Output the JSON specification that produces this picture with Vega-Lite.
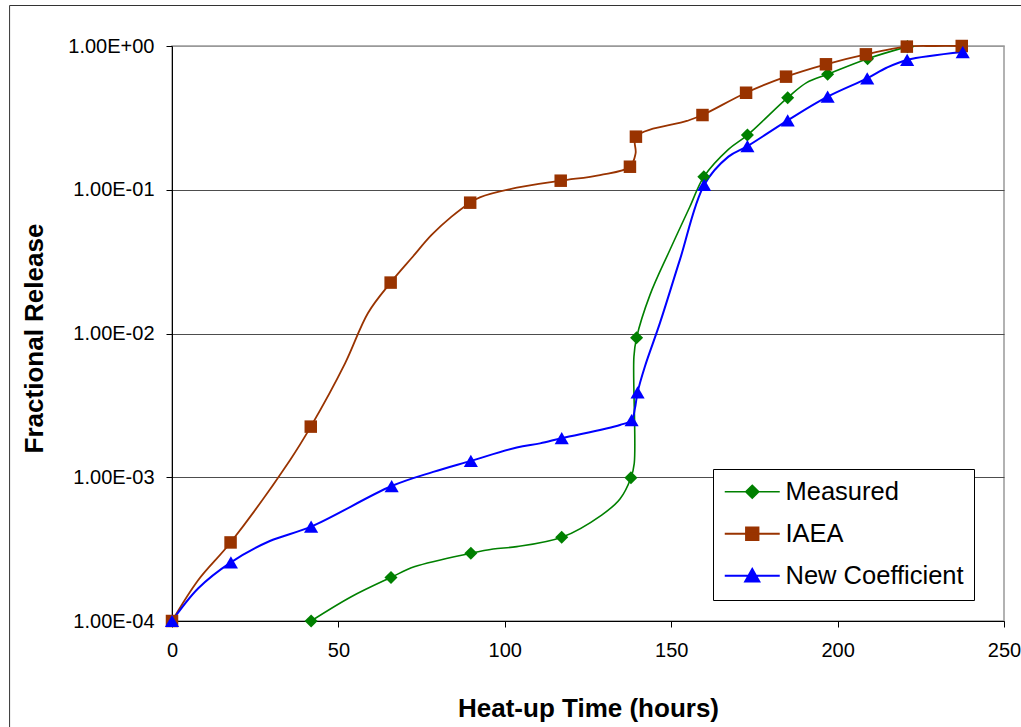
{
  "$schema": "https://vega.github.io/schema/vega-lite/v6.json",
  "width": 832,
  "height": 575,
  "autosize": {"type": "none"},
  "padding": {"left": 172, "top": 46, "right": 17, "bottom": 106},
  "background": "white",
  "datasets": {
    "curve": [
      {"series": "Measured", "t": 41.8, "v": 0.0001},
      {"series": "Measured", "t": 54.0, "v": 0.000148},
      {"series": "Measured", "t": 65.8, "v": 0.000201},
      {"series": "Measured", "t": 73.0, "v": 0.000239},
      {"series": "Measured", "t": 89.8, "v": 0.000296},
      {"series": "Measured", "t": 96.5, "v": 0.000317},
      {"series": "Measured", "t": 103.6, "v": 0.000329},
      {"series": "Measured", "t": 117.1, "v": 0.000382},
      {"series": "Measured", "t": 129.1, "v": 0.000546},
      {"series": "Measured", "t": 134.6, "v": 0.000706},
      {"series": "Measured", "t": 137.9, "v": 0.000993},
      {"series": "Measured", "t": 138.9, "v": 0.00125},
      {"series": "Measured", "t": 138.8, "v": 0.0069},
      {"series": "Measured", "t": 139.6, "v": 0.00935},
      {"series": "Measured", "t": 143.6, "v": 0.0185},
      {"series": "Measured", "t": 149.6, "v": 0.0381},
      {"series": "Measured", "t": 155.6, "v": 0.0762},
      {"series": "Measured", "t": 159.8, "v": 0.123},
      {"series": "Measured", "t": 167.2, "v": 0.191},
      {"series": "Measured", "t": 172.9, "v": 0.24},
      {"series": "Measured", "t": 185.0, "v": 0.437},
      {"series": "Measured", "t": 190.7, "v": 0.556},
      {"series": "Measured", "t": 197.0, "v": 0.636},
      {"series": "Measured", "t": 209.0, "v": 0.816},
      {"series": "Measured", "t": 221.0, "v": 0.99},
      {"series": "IAEA", "t": 0, "v": 0.0001},
      {"series": "IAEA", "t": 7.9, "v": 0.000193},
      {"series": "IAEA", "t": 17.6, "v": 0.000352},
      {"series": "IAEA", "t": 35.5, "v": 0.00132},
      {"series": "IAEA", "t": 41.7, "v": 0.00225},
      {"series": "IAEA", "t": 52.0, "v": 0.0062},
      {"series": "IAEA", "t": 58.9, "v": 0.0139},
      {"series": "IAEA", "t": 65.7, "v": 0.0226},
      {"series": "IAEA", "t": 72.0, "v": 0.0335},
      {"series": "IAEA", "t": 78.0, "v": 0.0485},
      {"series": "IAEA", "t": 84.0, "v": 0.065},
      {"series": "IAEA", "t": 89.6, "v": 0.0813},
      {"series": "IAEA", "t": 92.5, "v": 0.0886},
      {"series": "IAEA", "t": 103.6, "v": 0.1033},
      {"series": "IAEA", "t": 116.8, "v": 0.1156},
      {"series": "IAEA", "t": 128.6, "v": 0.1266},
      {"series": "IAEA", "t": 137.6, "v": 0.1446},
      {"series": "IAEA", "t": 139.3, "v": 0.179},
      {"series": "IAEA", "t": 139.4, "v": 0.234},
      {"series": "IAEA", "t": 154.7, "v": 0.301},
      {"series": "IAEA", "t": 159.4, "v": 0.331},
      {"series": "IAEA", "t": 172.5, "v": 0.473},
      {"series": "IAEA", "t": 184.5, "v": 0.612},
      {"series": "IAEA", "t": 196.5, "v": 0.746},
      {"series": "IAEA", "t": 208.5, "v": 0.875},
      {"series": "IAEA", "t": 220.8, "v": 0.99},
      {"series": "IAEA", "t": 229.0, "v": 1.0},
      {"series": "IAEA", "t": 237.3, "v": 1.0},
      {"series": "New Coefficient", "t": 0, "v": 0.0001},
      {"series": "New Coefficient", "t": 7.9, "v": 0.000169},
      {"series": "New Coefficient", "t": 17.7, "v": 0.000256},
      {"series": "New Coefficient", "t": 29.4, "v": 0.00036},
      {"series": "New Coefficient", "t": 41.8, "v": 0.000453},
      {"series": "New Coefficient", "t": 66.0, "v": 0.000869},
      {"series": "New Coefficient", "t": 78.5, "v": 0.00109},
      {"series": "New Coefficient", "t": 89.8, "v": 0.0013},
      {"series": "New Coefficient", "t": 103.6, "v": 0.00161},
      {"series": "New Coefficient", "t": 110.6, "v": 0.00172},
      {"series": "New Coefficient", "t": 117.1, "v": 0.00187},
      {"series": "New Coefficient", "t": 134.6, "v": 0.00231},
      {"series": "New Coefficient", "t": 138.1, "v": 0.0025},
      {"series": "New Coefficient", "t": 139.1, "v": 0.00302},
      {"series": "New Coefficient", "t": 139.9, "v": 0.0039},
      {"series": "New Coefficient", "t": 142.1, "v": 0.0059},
      {"series": "New Coefficient", "t": 146.6, "v": 0.0118},
      {"series": "New Coefficient", "t": 152.6, "v": 0.0325},
      {"series": "New Coefficient", "t": 159.9, "v": 0.108},
      {"series": "New Coefficient", "t": 167.2, "v": 0.17},
      {"series": "New Coefficient", "t": 172.9, "v": 0.201},
      {"series": "New Coefficient", "t": 185.0, "v": 0.304},
      {"series": "New Coefficient", "t": 197.0, "v": 0.444},
      {"series": "New Coefficient", "t": 208.9, "v": 0.596},
      {"series": "New Coefficient", "t": 214.7, "v": 0.706},
      {"series": "New Coefficient", "t": 220.9, "v": 0.8},
      {"series": "New Coefficient", "t": 237.6, "v": 0.908}
    ],
    "markers": [
      {"series": "Measured", "t": 41.8, "v": 0.0001},
      {"series": "Measured", "t": 65.8, "v": 0.000201},
      {"series": "Measured", "t": 89.8, "v": 0.000296},
      {"series": "Measured", "t": 117.1, "v": 0.000382},
      {"series": "Measured", "t": 137.9, "v": 0.000993},
      {"series": "Measured", "t": 139.6, "v": 0.00935},
      {"series": "Measured", "t": 159.8, "v": 0.123},
      {"series": "Measured", "t": 172.9, "v": 0.24},
      {"series": "Measured", "t": 185.0, "v": 0.437},
      {"series": "Measured", "t": 197.0, "v": 0.636},
      {"series": "Measured", "t": 209.0, "v": 0.816},
      {"series": "Measured", "t": 221.0, "v": 0.99},
      {"series": "IAEA", "t": 0, "v": 0.0001},
      {"series": "IAEA", "t": 17.6, "v": 0.000352},
      {"series": "IAEA", "t": 41.7, "v": 0.00225},
      {"series": "IAEA", "t": 65.7, "v": 0.0226},
      {"series": "IAEA", "t": 89.6, "v": 0.0813},
      {"series": "IAEA", "t": 116.8, "v": 0.1156},
      {"series": "IAEA", "t": 137.6, "v": 0.1446},
      {"series": "IAEA", "t": 139.4, "v": 0.234},
      {"series": "IAEA", "t": 159.4, "v": 0.331},
      {"series": "IAEA", "t": 172.5, "v": 0.473},
      {"series": "IAEA", "t": 184.5, "v": 0.612},
      {"series": "IAEA", "t": 196.5, "v": 0.746},
      {"series": "IAEA", "t": 208.5, "v": 0.875},
      {"series": "IAEA", "t": 220.8, "v": 0.99},
      {"series": "IAEA", "t": 237.3, "v": 1.0},
      {"series": "New Coefficient", "t": 0, "v": 0.0001},
      {"series": "New Coefficient", "t": 17.7, "v": 0.000256},
      {"series": "New Coefficient", "t": 41.8, "v": 0.000453},
      {"series": "New Coefficient", "t": 66.0, "v": 0.000869},
      {"series": "New Coefficient", "t": 89.8, "v": 0.0013},
      {"series": "New Coefficient", "t": 117.1, "v": 0.00187},
      {"series": "New Coefficient", "t": 138.1, "v": 0.0025},
      {"series": "New Coefficient", "t": 139.9, "v": 0.0039},
      {"series": "New Coefficient", "t": 159.9, "v": 0.108},
      {"series": "New Coefficient", "t": 172.9, "v": 0.201},
      {"series": "New Coefficient", "t": 185.0, "v": 0.304},
      {"series": "New Coefficient", "t": 197.0, "v": 0.444},
      {"series": "New Coefficient", "t": 208.9, "v": 0.596},
      {"series": "New Coefficient", "t": 220.9, "v": 0.8},
      {"series": "New Coefficient", "t": 237.6, "v": 0.908}
    ]
  },
  "layer": [
    {
      "data": {"values": [{"frame": "chart area"}]},
      "mark": {"type": "rect", "fill": null, "fillOpacity": 0, "stroke": "#333333", "strokeWidth": 1, "clip": false},
      "encoding": {
        "x": {"datum": -48.8, "type": "quantitative", "scale": {"domain": [0, 250], "nice": false, "zero": false}},
        "x2": {"datum": 330},
        "y": {"datum": 1.913, "type": "quantitative", "scale": {"type": "log", "domain": [0.0001, 1], "nice": false}},
        "y2": {"datum": 0.0000001}
      }
    },
    {
      "data": {"name": "curve"},
      "mark": {"type": "line", "interpolate": "catmull-rom"},
      "encoding": {
        "x": {
          "field": "t", "type": "quantitative",
          "scale": {"domain": [0, 250], "nice": false, "zero": false},
          "axis": {
            "values": [0, 50, 100, 150, 200, 250],
            "grid": false,
            "labelFlush": false,
            "title": "Heat-up Time (hours)",
            "titleY": 95,
            "titleBaseline": "alphabetic"
          }
        },
        "y": {
          "field": "v", "type": "quantitative",
          "scale": {"type": "log", "domain": [0.0001, 1], "nice": false},
          "axis": {
            "values": [0.0001, 0.001, 0.01, 0.1, 1],
            "grid": true,
            "labelFlush": false,
            "gridColor": {"condition": {"test": "datum.value >= 1", "value": "#999999"}, "value": "#4d4d4d"},
            "labelExpr": "'1.00E' + (datum.value >= 1 ? '+' : '-') + (abs(round(log(datum.value)/LN10)) < 10 ? '0' : '') + abs(round(log(datum.value)/LN10))",
            "title": "Fractional Release",
            "titleX": -130,
            "titleY": 292,
            "titleBaseline": "alphabetic"
          }
        },
        "stroke": {
          "field": "series", "type": "nominal",
          "scale": {"domain": ["Measured", "IAEA", "New Coefficient"], "range": ["#008000", "#993300", "#0000ff"]},
          "legend": {
            "title": null, "orient": "none", "legendX": 541, "legendY": 423, "padding": 10,
            "strokeColor": "#000000", "fillColor": "#ffffff",
            "labelFont": "Liberation Sans", "labelFontSize": 25.5, "labelColor": "#000000", "labelLimit": 400,
            "symbolSize": 484, "symbolStrokeWidth": 1.6, "symbolOpacity": 1, "labelOffset": 37, "rowPadding": 15
          }
        },
        "strokeWidth": {
          "field": "series", "type": "nominal",
          "scale": {"domain": ["Measured", "IAEA", "New Coefficient"], "range": [1.6, 2, 2]},
          "legend": null
        },
        "order": {"value": null}
      }
    },
    {
      "data": {"name": "markers"},
      "transform": [{"filter": "datum.series === 'Measured'"}],
      "mark": {"type": "point", "shape": "diamond", "filled": true, "opacity": 1, "size": 170, "color": "#008000", "strokeWidth": 0},
      "encoding": {
        "x": {"field": "t", "type": "quantitative"},
        "y": {"field": "v", "type": "quantitative"}
      }
    },
    {
      "data": {"name": "markers"},
      "transform": [{"filter": "datum.series === 'IAEA'"}],
      "mark": {"type": "point", "shape": "square", "filled": true, "opacity": 1, "size": 156, "color": "#993300", "strokeWidth": 0},
      "encoding": {
        "x": {"field": "t", "type": "quantitative"},
        "y": {"field": "v", "type": "quantitative"}
      }
    },
    {
      "data": {"name": "markers"},
      "transform": [{"filter": "datum.series === 'New Coefficient'"}],
      "mark": {"type": "point", "shape": "triangle-up", "filled": true, "opacity": 1, "size": 200, "color": "#0000ff", "strokeWidth": 0},
      "encoding": {
        "x": {"field": "t", "type": "quantitative"},
        "y": {"field": "v", "type": "quantitative"}
      }
    },
    {
      "data": {"name": "markers"},
      "transform": [{"filter": "false"}],
      "mark": {"type": "point", "filled": true, "opacity": 1, "strokeWidth": 1.6},
      "encoding": {
        "x": {"field": "t", "type": "quantitative"},
        "y": {"field": "v", "type": "quantitative"},
        "fill": {
          "field": "series", "type": "nominal",
          "scale": {"domain": ["Measured", "IAEA", "New Coefficient"], "range": ["#008000", "#993300", "#0000ff"]},
          "legend": {
            "title": null, "orient": "none", "legendX": 541, "legendY": 423, "padding": 10,
            "strokeColor": "#000000", "fillColor": "#ffffff",
            "labelFont": "Liberation Sans", "labelFontSize": 25.5, "labelColor": "#000000", "labelLimit": 400,
            "symbolSize": 484, "symbolStrokeWidth": 1.6, "symbolOpacity": 1, "labelOffset": 37, "rowPadding": 15
          }
        },
        "stroke": {
          "field": "series", "type": "nominal",
          "scale": {"domain": ["Measured", "IAEA", "New Coefficient"], "range": ["#008000", "#993300", "#0000ff"]},
          "legend": {
            "title": null, "orient": "none", "legendX": 541, "legendY": 423, "padding": 10,
            "strokeColor": "#000000", "fillColor": "#ffffff",
            "labelFont": "Liberation Sans", "labelFontSize": 25.5, "labelColor": "#000000", "labelLimit": 400,
            "symbolSize": 484, "symbolStrokeWidth": 1.6, "symbolOpacity": 1, "labelOffset": 37, "rowPadding": 15
          }
        },
        "shape": {
          "field": "series", "type": "nominal",
          "scale": {
            "domain": ["Measured", "IAEA", "New Coefficient"],
            "range": ["M-1,0H4M1.5,-0.59L2.09,0L1.5,0.59L0.91,0Z", "M-1,0H4M0.93,-0.57H2.07V0.57H0.93Z", "M-1,0H4M1.5,-0.62L2.14,0.52H0.86Z"]
          },
          "legend": {
            "title": null, "orient": "none", "legendX": 541, "legendY": 423, "padding": 10,
            "strokeColor": "#000000", "fillColor": "#ffffff",
            "labelFont": "Liberation Sans", "labelFontSize": 25.5, "labelColor": "#000000", "labelLimit": 400,
            "symbolSize": 484, "symbolStrokeWidth": 1.6, "symbolOpacity": 1, "labelOffset": 37, "rowPadding": 15
          }
        }
      }
    }
  ],
  "config": {
    "view": {"stroke": "#999999", "strokeWidth": 1.5},
    "font": "Liberation Sans",
    "axis": {
      "labelFont": "Liberation Sans",
      "labelFontSize": 20,
      "labelColor": "#000000",
      "titleFont": "Liberation Sans",
      "titleFontSize": 26,
      "titleFontWeight": "bold",
      "titleColor": "#000000",
      "domainColor": "#000000",
      "domainWidth": 1,
      "tickColor": "#000000",
      "tickSize": 6,
      "labelPadding": 12,
      "gridWidth": 1
    },
    "axisX": {"labelPadding": 13},
    "axisY": {"labelPadding": 12}
  }
}
